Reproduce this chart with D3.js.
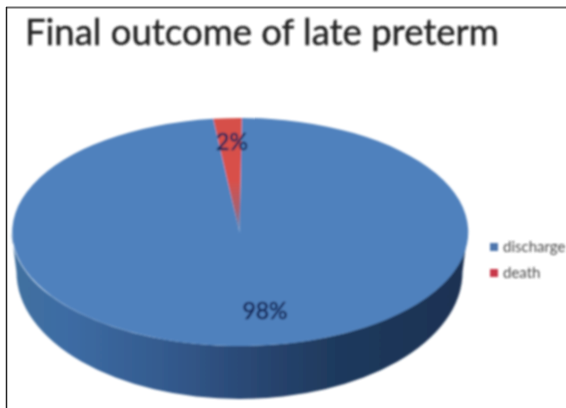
<!DOCTYPE html>
<html>
<head>
<meta charset="utf-8">
<script src="https://cdn.jsdelivr.net/npm/d3@7"></script>
<style>
html,body{margin:0;padding:0;background:#fff;overflow:hidden}
svg{display:block}
</style>
</head>
<body>
<svg id="chart" width="566" height="408"></svg>
<script>
// Final outcome of late preterm infants
const categories = ["discharge", "death"];
const shares = [98, 2];
const sliceColors = ["#4f81bd", "url(#deathFill)"];
const legendColors = ["#4f76ad", "#c8374a"];
const chartTitle = "Final outcome of late preterm";

const svg = d3.select("#chart");
const cx = 239.5, cy = 232, rx = 228, ry = 114;
const baseRx = 223, baseRy = 127, baseCy = 272;

const defs = svg.append("defs");
const wall = defs.append("linearGradient").attr("id", "wall")
  .attr("gradientUnits", "userSpaceOnUse")
  .attr("x1", cx - rx).attr("x2", cx + rx).attr("y1", 0).attr("y2", 0);
[[0, "#41709f"], [0.12, "#3d6ca4"], [0.35, "#33598c"], [0.55, "#284570"], [0.7, "#1f3a5e"], [1, "#1b3152"]]
  .forEach(([o, c]) => wall.append("stop").attr("offset", o).attr("stop-color", c));
const deathFill = defs.append("linearGradient").attr("id", "deathFill")
  .attr("x1", 0).attr("x2", 0).attr("y1", 0).attr("y2", 1);
[[0, "#d6504a"], [0.55, "#d9504a"], [0.8, "#a8606f"], [1, "#4f81bd"]]
  .forEach(([o, c]) => deathFill.append("stop").attr("offset", o).attr("stop-color", c));
const soft = defs.append("filter").attr("id", "soft")
  .attr("x", "-5%").attr("y", "-5%").attr("width", "110%").attr("height", "110%");
soft.append("feGaussianBlur").attr("stdDeviation", 0.8);

// Picture frame: only the top and left rules are visible
svg.append("line").attr("x1", 6).attr("x2", 566).attr("y1", 7.5).attr("y2", 7.5)
  .attr("stroke", "#6e6e6e").attr("stroke-width", 2);
svg.append("line").attr("x1", 6.5).attr("x2", 6.5).attr("y1", 7).attr("y2", 408)
  .attr("stroke", "#222").attr("stroke-width", 1.5);

svg.append("text").attr("x", 25).attr("y", 45)
  .attr("font-family", "Lato, 'Open Sans', sans-serif").attr("font-size", 36.5)
  .attr("fill", "#222").attr("stroke", "#222").attr("stroke-width", 0.4)
  .attr("filter", "url(#soft)")
  .text(chartTitle);

const plot = svg.append("g").attr("filter", "url(#soft)");

// Front wall of the disc, tapering slightly toward its base
plot.append("path")
  .attr("d", `M${cx - rx},${cy} A${rx},${ry} 0 0 0 ${cx + rx},${cy} L${cx + baseRx},${baseCy} A${baseRx},${baseRy} 0 0 1 ${cx - baseRx},${baseCy} Z`)
  .attr("fill", "url(#wall)");

// Top face: a unit pie stretched into an ellipse, death slice just left of twelve o'clock
const deathAngle = shares[1] / d3.sum(shares) * 2 * Math.PI;
const offset = deathAngle * 0.08;
const pie = d3.pie().sort(null)
  .startAngle(offset).endAngle(offset + 2 * Math.PI);
const arc = d3.arc().innerRadius(0).outerRadius(1);
plot.append("g").attr("transform", `translate(${cx},${cy}) scale(${rx},${ry})`)
  .selectAll("path").data(pie(shares)).join("path")
  .attr("d", arc).attr("fill", (d, i) => sliceColors[i]);

// Percent labels
const labelPos = [[265, 311], [232, 142]];
plot.selectAll(".pct").data(shares).join("text").attr("class", "pct")
  .attr("x", (d, i) => labelPos[i][0]).attr("y", (d, i) => labelPos[i][1] + 8)
  .attr("text-anchor", "middle")
  .attr("font-family", "Lato, 'Open Sans', sans-serif").attr("font-size", 23)
  .attr("fill", "#14285a").attr("stroke", "#14285a").attr("stroke-width", 0.6)
  .text(d => d + "%");

// Legend, running off the right edge as drawn
const legend = svg.append("g").attr("filter", "url(#soft)");
const rowY = d3.scalePoint().domain(categories).range([247, 273]);
legend.selectAll("rect").data(categories).join("rect")
  .attr("x", 490).attr("y", d => rowY(d) - 4).attr("width", 8).attr("height", 8)
  .attr("fill", (d, i) => legendColors[i]);
legend.selectAll("text").data(categories).join("text")
  .attr("x", 503).attr("y", d => rowY(d) + 5)
  .attr("font-family", "Lato, 'Open Sans', sans-serif").attr("font-size", 15)
  .attr("fill", "#4a4a4a")
  .text(d => d);
</script>
</body>
</html>
